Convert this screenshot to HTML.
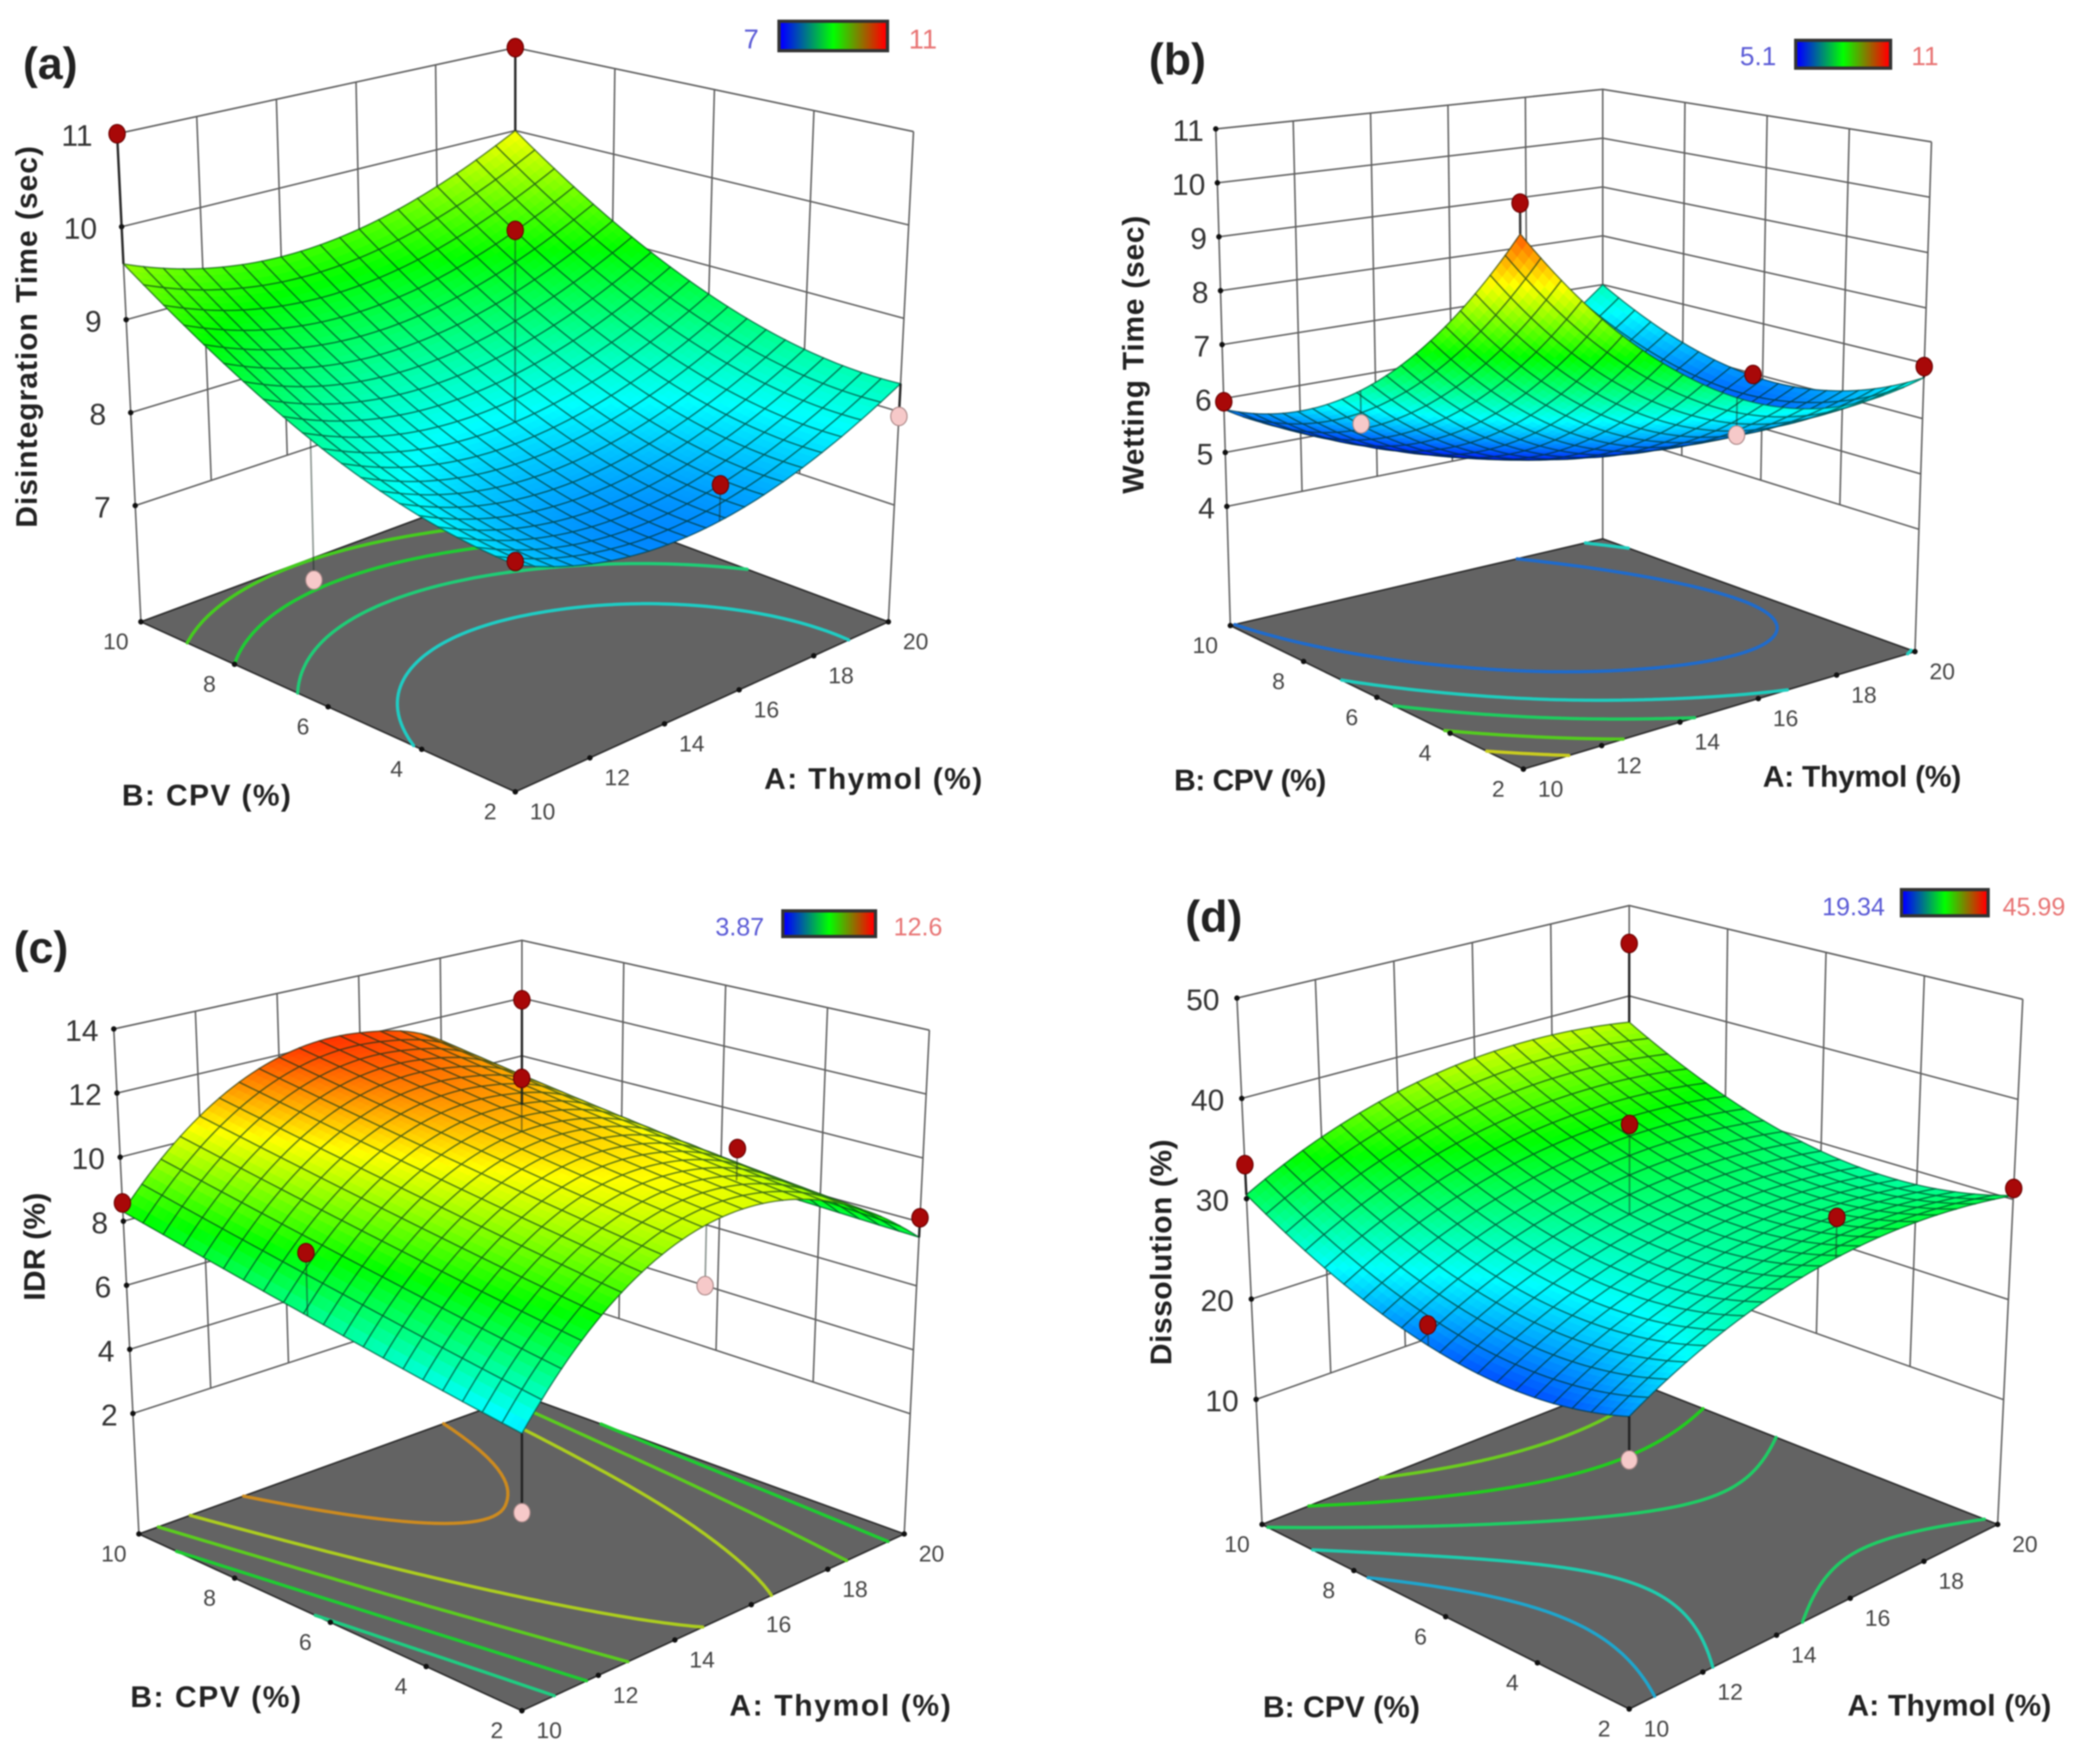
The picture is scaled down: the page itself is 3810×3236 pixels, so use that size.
<!DOCTYPE html>
<html lang="en">
<head>
<meta charset="utf-8">
<title>Response surface plots</title>
<style>
html,body{margin:0;padding:0;background:#fff;}
svg{display:block;font-family:"Liberation Sans",sans-serif;}
#plots{filter:blur(1.2px);}
</style>
</head>
<body>
<svg id="chart" xmlns="http://www.w3.org/2000/svg" width="3810" height="3236" viewBox="0 0 3810 3236">
<defs>
<linearGradient id="legendGrad" x1="0" x2="1" y1="0" y2="0">
<stop offset="0.03" stop-color="#0000ff"/>
<stop offset="0.5" stop-color="#00ff00"/>
<stop offset="0.97" stop-color="#ff0000"/>
</linearGradient>
</defs>
<rect x="0" y="0" width="3810" height="3236" fill="#ffffff"/>
<g id="plots"></g>
</svg>
<script>
// Shared axis values
const thymolTicks = [10, 12, 14, 16, 18, 20];
const cpvTicks = [2, 4, 6, 8, 10];

// Surface values: one row per CPV tick, one column per Thymol tick
const surfaceA = [
  [7.90, 7.63, 7.53, 7.61, 7.87, 8.30],
  [8.03, 7.74, 7.63, 7.70, 7.95, 8.37],
  [8.35, 8.06, 7.95, 8.02, 8.26, 8.68],
  [8.88, 8.59, 8.48, 8.55, 8.80, 9.22],
  [9.60, 9.33, 9.23, 9.31, 9.57, 10.00]
];
const surfaceB = [
  [10.50, 8.87, 7.68, 6.88, 6.55, 6.74],
  [8.62, 7.24, 6.30, 5.80, 5.74, 6.12],
  [7.21, 6.08, 5.38, 5.13, 5.31, 5.94],
  [6.27, 5.38, 4.94, 4.93, 5.36, 6.24],
  [5.80, 5.16, 4.96, 5.20, 5.88, 7.00]
];
const surfaceC = [
  [5.80, 8.32, 9.75, 10.09, 9.35, 7.52],
  [6.31, 8.79, 10.18, 10.48, 9.70, 7.62],
  [6.90, 9.34, 10.69, 10.95, 10.13, 7.75],
  [7.56, 9.96, 11.27, 11.49, 10.63, 7.95],
  [8.30, 10.66, 11.93, 12.11, 11.21, 8.30]
];
const surfaceD = [
  [23.10, 26.79, 29.36, 30.82, 31.17, 30.40],
  [21.46, 25.12, 27.66, 29.09, 29.41, 28.61],
  [22.13, 25.76, 28.27, 29.67, 29.96, 29.13],
  [25.11, 28.71, 31.19, 32.56, 32.82, 31.96],
  [30.40, 33.97, 36.42, 37.76, 37.99, 37.10]
];

// Design points: [Thymol, CPV, response]
const designA = [[10,10,11],[20,10,11],[15,6,10.01],[15.35,2,7.93],[20,2,7.95],[10,6.24,6.98],[10,2,7.93]];
const designB = [[10,10,5.94],[10,2,11],[20,2,6.94],[20,6.24,5.98],[10,6.3,6.46],[15.35,2,6.45]];
const designC = [[20,10,11.94],[15,6,12.6],[10,10,8.57],[10,6.32,8.85],[10,2,3.64],[14.6,2,8.2],[20,5.68,8.77],[20,2,8.13]];
const designD = [[20,10,45.8],[10,10,33.4],[15,6,38],[15.38,2,34.3],[20,2,31.1],[10,6.24,24.3],[10,2,19.3]];

// Response axis ticks
const zTicksA = [7, 8, 9, 10, 11];
const zTicksB = [4, 5, 6, 7, 8, 9, 10, 11];
const zTicksC = [2, 4, 6, 8, 10, 12, 14];
const zTicksD = [10, 20, 30, 40, 50];

// Contour levels on the floor
const levelsA = [8.05, 8.5, 8.88, 9.22];
const levelsB = [5.75, 6.7, 7.5, 8.5, 9.5];
const levelsC = [7, 8, 9, 10, 11.25];
const levelsD = [24.5, 27.2, 30, 32.8, 35.6];

// Legend colour ranges
const legendA = ['7', '11'];
const legendB = ['5.1', '11'];
const legendC = ['3.87', '12.6'];
const legendD = ['19.34', '45.99'];

const NS = 'http://www.w3.org/2000/svg';
const SX = 1.2134;
const MESH = 20;
const SUB = 3;

const panels = [
  {key:'a', ox:0, oy:0, sy:0.9936, z0:5.75, zTop:11, surface:surfaceA, design:designA, zTicks:zTicksA, levels:levelsA, legend:legendA, legendSize:50,
   floor:[[779,1462],[1343,1148],[779,892],[213,1148]], top:[[779,438],[1381,243],[779,88],[177,247]],
   letter:'(a)', letterPos:[76,118], zTitle:'Disintegration Time (sec)', zTitlePos:[40,622], zTitleLen:700, zLabelGap:45,
   aTitlePos:[1320,1437], aTitleLen:400, bTitlePos:[312,1468], bTitleLen:310,
   bar:[1429,39,199,54], legendX:[1378,1693], legendY:72},
  {key:'b', ox:1905, oy:0, sy:0.9936, z0:1.79, zTop:11, surface:surfaceB, design:designB, zTicks:zTicksB, levels:levelsB, legend:legendB, legendSize:48,
   floor:[[733,1420],[1325,1203],[853,995],[290,1155]], top:[[728,375],[1350,262],[853,165],[268,238]],
   letter:'(b)', letterPos:[210,110], zTitle:'Wetting Time (sec)', zTitlePos:[143,655], zTitleLen:510, zLabelGap:22,
   aTitlePos:[1245,1433], aTitleLen:364, bTitlePos:[320,1440], bTitleLen:279,
   bar:[3294,74,174,51], legendX:[3225,3531], legendY:104},
  {key:'c', ox:0, oy:1620, sy:1.0293, z0:-1.76, zTop:14, surface:surfaceC, design:designC, zTicks:zTicksC, levels:levelsC, legend:legendC, legendSize:46,
   floor:[[789,1475],[1367,1160],[789,913],[210,1160]], top:[[789,445],[1405,262],[789,102],[172,260]],
   letter:'(c)', letterPos:[62,115], zTitle:'IDR (%)', zTitlePos:[52,648], zTitleLen:198, zLabelGap:28,
   aTitlePos:[1270,1465], aTitleLen:406, bTitlePos:[326,1450], bTitleLen:313,
   bar:[1436,1671,170,47], legendX:[1357,1684], legendY:1700},
  {key:'d', ox:1905, oy:1620, sy:1.0293, z0:-2.46, zTop:50, surface:surfaceD, design:designD, zTicks:zTicksD, levels:levelsD, legend:legendD, legendSize:46,
   floor:[[893,1472],[1450,1143],[893,885],[338,1143]], top:[[893,402],[1488,207],[893,40],[300,205]],
   letter:'(d)', letterPos:[265,60], zTitle:'Dissolution (%)', zTitlePos:[185,658], zTitleLen:414, zLabelGap:32,
   aTitlePos:[1377,1465], aTitleLen:374, bTitlePos:[458,1468], bTitleLen:288,
   bar:[3488,1632,159,48], legendX:[3400,3731], legendY:1663}
];

function svgEl(tag, attrs, parent, text) {
  const el = document.createElementNS(NS, tag);
  for (const k in attrs) el.setAttribute(k, attrs[k]);
  if (text !== undefined) el.textContent = text;
  parent.appendChild(el);
  return el;
}

// Corner order: (0,0), (1,0), (1,1), (0,1)
function quadMap(q) {
  return (u,v)=>[0,1].map(k=>
    (1-u)*(1-v)*q[0][k] + u*(1-v)*q[1][k] + u*v*q[2][k] + (1-u)*v*q[3][k]);
}

function curve1d(vals, u) {
  const n=vals.length;
  const t=Math.max(0,Math.min(1,u))*(n-1);
  const i=Math.min(Math.floor(t),n-2);
  const f=t-i;
  const p1=vals[i], p2=vals[i+1];
  const p0=i>0?vals[i-1]:3*vals[0]-3*vals[1]+vals[2];
  const p3=i<n-2?vals[i+2]:3*vals[n-1]-3*vals[n-2]+vals[n-3];
  return 0.5*(2*p1+(p2-p0)*f+(2*p0-5*p1+4*p2-p3)*f*f+(3*p1-p0-3*p2+p3)*f*f*f);
}

function surfaceValue(grid, u, v) {
  return curve1d(grid.map(row=>curve1d(row,u)), v);
}

function colorAt(t) {
  if (t<0) return [0,0,Math.max(120,Math.round(255*(1+t*8)))];
  const s=[[0,0,255],[0,255,255],[0,255,0],[255,255,0],[255,0,0]];
  const c=Math.min(0.9999,t)*4;
  const i=Math.floor(c), f=c-i;
  return [0,1,2].map(k=>Math.round(s[i][k]+(s[i+1][k]-s[i][k])*f));
}

function drawPanel(p) {
  const root=document.getElementById('plots');
  const g=svgEl('g',{},root);
  
  

  const toPx=c=>[p.ox+c[0]*SX, p.oy+c[1]*p.sy];
  const F=quadMap(p.floor.map(toPx));
  const T=quadMap(p.top.map(toPx));
  const zf=z=>(z-p.z0)/(p.zTop-p.z0);
  const project=(u,v,z)=>{
    const a=F(u,v), b=T(u,v), k=zf(z);
    return [a[0]+(b[0]-a[0])*k, a[1]+(b[1]-a[1])*k];
  };
  const uOf=A=>(A-thymolTicks[0])/(thymolTicks[thymolTicks.length-1]-thymolTicks[0]);
  const vOf=B=>(B-cpvTicks[0])/(cpvTicks[cpvTicks.length-1]-cpvTicks[0]);
  const zMin=parseFloat(p.legend[0]), zMax=parseFloat(p.legend[1]);
  const pts=a=>a.map(q=>q[0].toFixed(1)+','+q[1].toFixed(1)).join(' ');

  // Walls
  const walls=svgEl('g',{fill:'none',stroke:'#5e5e5e','stroke-width':2.8},g);
  
  
  const zLow=p.zTicks[0];
  for (const z of p.zTicks) {
    const l=svgEl('polyline',{points:pts([project(0,1,z),project(1,1,z),project(1,0,z)])},walls);
    
    
  }
  const topLine=svgEl('polyline',{points:pts([project(0,1,p.zTop),project(1,1,p.zTop),project(1,0,p.zTop)])},walls);
  
  
  for (const A of thymolTicks.slice(1,-1)) {
    const u=uOf(A);
    const l=svgEl('polyline',{points:pts([project(u,1,zLow),project(u,1,p.zTop)])},walls);
    
    
  }
  for (const B of cpvTicks.slice(1,-1)) {
    const v=vOf(B);
    const l=svgEl('polyline',{points:pts([project(1,v,zLow),project(1,v,p.zTop)])},walls);
    
    
  }
  for (const c of [[0,1],[1,1],[1,0]]) {
    const l=svgEl('polyline',{points:pts([project(c[0],c[1],p.z0),project(c[0],c[1],p.zTop)])},walls);
    
    
  }

  // Floor
  const floor=svgEl('polygon',{points:pts([F(0,0),F(1,0),F(1,1),F(0,1)]),fill:'#636363',stroke:'#2c2c2c','stroke-width':3},g);
  
  

  // Contours by marching squares over the surface
  const N=80;
  const field=[];
  for (let j=0;j<=N;j++){ const r=[]; for(let i=0;i<=N;i++) r.push(surfaceValue(p.surface,i/N,j/N)); field.push(r); }
  for (const lv of p.levels) {
    let d='';
    for (let j=0;j<N;j++) for (let i=0;i<N;i++) {
      const c=[field[j][i],field[j][i+1],field[j+1][i+1],field[j+1][i]];
      const cross=[];
      const corner=[[i,j],[i+1,j],[i+1,j+1],[i,j+1]];
      for (let e=0;e<4;e++){
        const m=c[e], n=c[(e+1)%4];
        if ((m<lv)!==(n<lv)){
          const t=(lv-m)/(n-m);
          const a=corner[e], b=corner[(e+1)%4];
          cross.push(F((a[0]+(b[0]-a[0])*t)/N,(a[1]+(b[1]-a[1])*t)/N));
        }
      }
      for (let k=0;k+1<cross.length;k+=2)
        d+='M'+cross[k][0].toFixed(1)+' '+cross[k][1].toFixed(1)+'L'+cross[k+1][0].toFixed(1)+' '+cross[k+1][1].toFixed(1);
    }
    const col=colorAt((lv-zMin)/(zMax-zMin)).map(x=>Math.round(x*0.68+96*0.32));
    const path=svgEl('path',{d:d,fill:'none',stroke:'rgb('+col.join(',')+')','stroke-width':6,'stroke-linecap':'round'},g);
    
    
  }

  // Ticks on the response axis
  for (const z of p.zTicks) {
    const q=project(0,1,z);
    const dot=svgEl('circle',{cx:q[0],cy:q[1],r:5,fill:'#111'},g);
    
    
    const t=svgEl('text',{x:q[0]-p.zLabelGap,y:q[1]+3,'text-anchor':'end','dominant-baseline':'central','font-size':55,fill:'#333'},g,String(z));
    
    
  }
  // Ticks on the floor
  for (const A of thymolTicks) {
    const q=F(uOf(A),0);
    const dot=svgEl('circle',{cx:q[0],cy:q[1],r:5,fill:'#111'},g);
    
    
    const t=svgEl('text',{x:q[0]+50,y:q[1]+36,'text-anchor':'middle','dominant-baseline':'central','font-size':42,fill:'#444'},g,String(A));
    
    
  }
  for (const B of cpvTicks) {
    const q=F(0,vOf(B));
    const dot=svgEl('circle',{cx:q[0],cy:q[1],r:5,fill:'#111'},g);
    
    
    const t=svgEl('text',{x:q[0]-46,y:q[1]+36,'text-anchor':'middle','dominant-baseline':'central','font-size':42,fill:'#444'},g,String(B));
    
    
  }

  // Surface mesh, far cells first; each cell is shaded with small facets then outlined
  const surf=svgEl('g',{'stroke-linejoin':'round'},g);
  
  
  const order=[];
  for (let j=0;j<MESH;j++) for (let i=0;i<MESH;i++) order.push([i,j]);
  order.sort((m,n)=>(n[0]+n[1])-(m[0]+m[1]));
  const at=(u,v)=>project(u,v,surfaceValue(p.surface,u,v));
  for (const [i,j] of order) {
    for (let sj=SUB-1;sj>=0;sj--) for (let si=SUB-1;si>=0;si--) {
      const u0=(i+si/SUB)/MESH, u1=(i+(si+1)/SUB)/MESH, v0=(j+sj/SUB)/MESH, v1=(j+(sj+1)/SUB)/MESH;
      const avg=surfaceValue(p.surface,(u0+u1)/2,(v0+v1)/2);
      const css='rgb('+colorAt((avg-zMin)/(zMax-zMin)).join(',')+')';
      const facet=svgEl('polygon',{points:pts([at(u0,v0),at(u1,v0),at(u1,v1),at(u0,v1)]),fill:css,stroke:css,'stroke-width':1},surf);
      
      
    }
    const outline=[];
    for (let k=0;k<=SUB;k++) outline.push(at((i+k/SUB)/MESH,j/MESH));
    for (let k=1;k<=SUB;k++) outline.push(at((i+1)/MESH,(j+k/SUB)/MESH));
    for (let k=SUB-1;k>=0;k--) outline.push(at((i+k/SUB)/MESH,(j+1)/MESH));
    for (let k=SUB-1;k>=1;k--) outline.push(at(i/MESH,(j+k/SUB)/MESH));
    const cell=svgEl('polygon',{points:pts(outline),fill:'none',stroke:'rgba(0,45,30,0.55)','stroke-width':2.6},surf);
    
    
  }

  // Design points with stems to the surface
  for (const d of p.design) {
    const u=uOf(d[0]), v=vOf(d[1]);
    const q=project(u,v,d[2]);
    const sv=surfaceValue(p.surface,u,v);
    const s=project(u,v,sv);
    const corner=(u===0||u===1)&&(v===0||v===1);
    const stem=svgEl('line',{x1:q[0],y1:q[1],x2:s[0],y2:s[1],stroke:corner?'rgba(25,25,25,0.85)':'rgba(25,45,35,0.5)','stroke-width':corner?4.5:3},g);
    
    
    const below=d[2]<sv;
    const dot=svgEl('ellipse',{cx:q[0],cy:q[1],rx:15,ry:17,fill:below?'#f6c9c9':'#a80808',stroke:below?'#a88':'#6a0000','stroke-width':2},g);
    
    
  }

  // Titles
  const aPos=toPx(p.aTitlePos), bPos=toPx(p.bTitlePos), zPos=toPx(p.zTitlePos), lPos=toPx(p.letterPos);
  const aT=svgEl('text',{x:aPos[0],y:aPos[1],'text-anchor':'middle','dominant-baseline':'central','font-size':55,'font-weight':'bold',fill:'#222',textLength:p.aTitleLen,lengthAdjust:'spacing'},g,'A: Thymol (%)');
  
  
  const bT=svgEl('text',{x:bPos[0],y:bPos[1],'text-anchor':'middle','dominant-baseline':'central','font-size':55,'font-weight':'bold',fill:'#222',textLength:p.bTitleLen,lengthAdjust:'spacing'},g,'B: CPV (%)');
  
  
  const zT=svgEl('text',{x:zPos[0],y:zPos[1],'text-anchor':'middle','dominant-baseline':'central','font-size':55,'font-weight':'bold',fill:'#222',textLength:p.zTitleLen,lengthAdjust:'spacing',transform:'rotate(-90 '+zPos[0]+' '+zPos[1]+')'},g,p.zTitle);
  
  
  const lT=svgEl('text',{x:lPos[0],y:lPos[1],'text-anchor':'middle','dominant-baseline':'central','font-size':82,'font-weight':'bold',fill:'#222'},g,p.letter);
  
  

  // Legend
  const bar=svgEl('rect',{x:p.bar[0],y:p.bar[1],width:p.bar[2],height:p.bar[3],fill:'url(#legendGrad)',stroke:'#333','stroke-width':6},g);
  
  
  const lo=svgEl('text',{x:p.legendX[0],y:p.legendY,'text-anchor':'middle','dominant-baseline':'central','font-size':p.legendSize,fill:'#5a5ad6'},g,p.legend[0]);
  
  
  const hi=svgEl('text',{x:p.legendX[1],y:p.legendY,'text-anchor':'middle','dominant-baseline':'central','font-size':p.legendSize,fill:'#e87474'},g,p.legend[1]);
  
  
}

panels.forEach(drawPanel);
</script>
</body>
</html>
